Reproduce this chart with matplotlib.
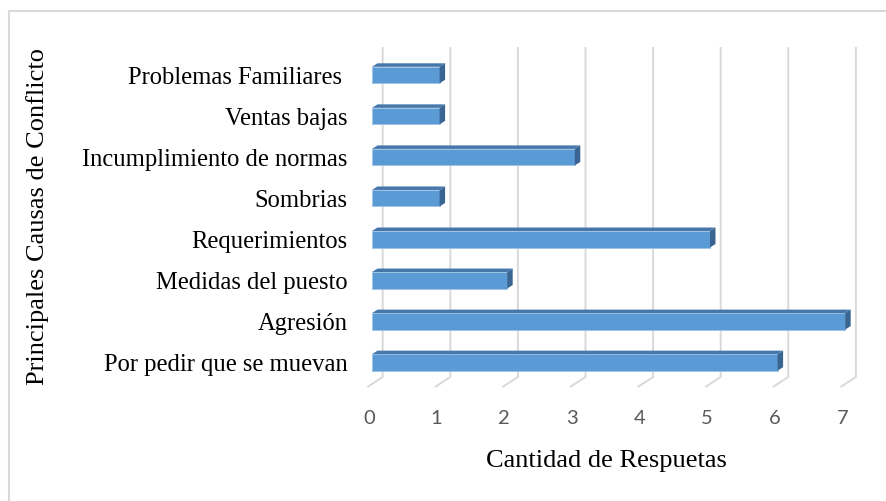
import matplotlib.pyplot as plt
from matplotlib.patches import Polygon
from matplotlib.lines import Line2D

# Data (bottom to top)
categories = ['Por pedir que se muevan', 'Agresión', 'Medidas del puesto', 'Requerimientos',
              'Sombrias', 'Incumplimiento de normas', 'Ventas bajas', 'Problemas Familiares ']
values = [6, 7, 2, 5, 1, 3, 1, 1]
ticks = [0, 1, 2, 3, 4, 5, 6, 7]

W, H = 887, 501
fig = plt.figure(figsize=(W / 100, H / 100), dpi=100)

# axes placed in pixels, data scale: 1 unit = 67.6 px in x, 41.05 px per category in y
left_px, right_px, top_px, bottom_px = 352, 885, 30, 440
ax = fig.add_axes([left_px / W, 1 - bottom_px / H, (right_px - left_px) / W, (bottom_px - top_px) / H])
x0_px, xs = 372, 67.6
y0_px, ys = 362.4, 41.05
ax.set_xlim((left_px - x0_px) / xs, (right_px - x0_px) / xs)
ax.set_ylim((y0_px - bottom_px) / ys, (y0_px - top_px) / ys)
for s in ax.spines.values():
    s.set_visible(False)

grid_col = '#d9d9d9'
back_off = 10.7 / xs
front_off = -4.7 / xs
wall_top = (y0_px - 47) / ys
floor_back = (y0_px - 377) / ys
floor_front = (y0_px - 387) / ys

# back wall gridlines + floor diagonals
for t in ticks:
    ax.plot([t + back_off, t + back_off, t + front_off], [wall_top, floor_back, floor_front],
            color=grid_col, lw=1.4, zorder=1, solid_capstyle='butt')
    ax.text(t - 3 / xs, (y0_px - 418.7) / ys, str(t), ha='center', va='center',
            fontsize=14.5, color='#595959', family='Lato')

# 3D bars
h = 16.5 / ys
dx, dy = 5.5 / xs, 3.5 / ys
idx = list(range(len(categories)))
ax.barh(idx, values, height=h, color='#5b9bd5', edgecolor='#9dc3e6', linewidth=0.6, zorder=3)
for i, v in zip(idx, values):
    top = [(0, i + h / 2), (v, i + h / 2), (v + dx, i + h / 2 + dy), (dx, i + h / 2 + dy)]
    side = [(v, i - h / 2), (v + dx, i - h / 2 + dy), (v + dx, i + h / 2 + dy), (v, i + h / 2)]
    ax.add_patch(Polygon(top, closed=True, facecolor='#4677ab', edgecolor='none', zorder=4))
    ax.add_patch(Polygon(side, closed=True, facecolor='#3a6592', edgecolor='none', zorder=4))

ax.set_xticks([])
ax.set_yticks(idx)
ax.set_yticklabels(categories, fontsize=17.7, family='Liberation Serif', color='black')
ax.tick_params(axis='y', length=0, pad=3)

# axis titles
fig.text(38 / W, 1 - 216.5 / H, 'Principales Causas de Conflicto', rotation=90, ha='center', va='center',
         fontsize=19, family='Liberation Serif')
fig.text(606 / W, 1 - 467 / H, 'Cantidad de Respuetas', ha='center', va='baseline',
         fontsize=19, family='Liberation Serif')

# chart border (only left and top visible in the crop)
fig.add_artist(Line2D([9.5 / W, 9.5 / W, 1.0], [0, 1 - 11 / H, 1 - 11 / H], color=grid_col, lw=1.5))

fig.savefig('out.png', dpi=100)
